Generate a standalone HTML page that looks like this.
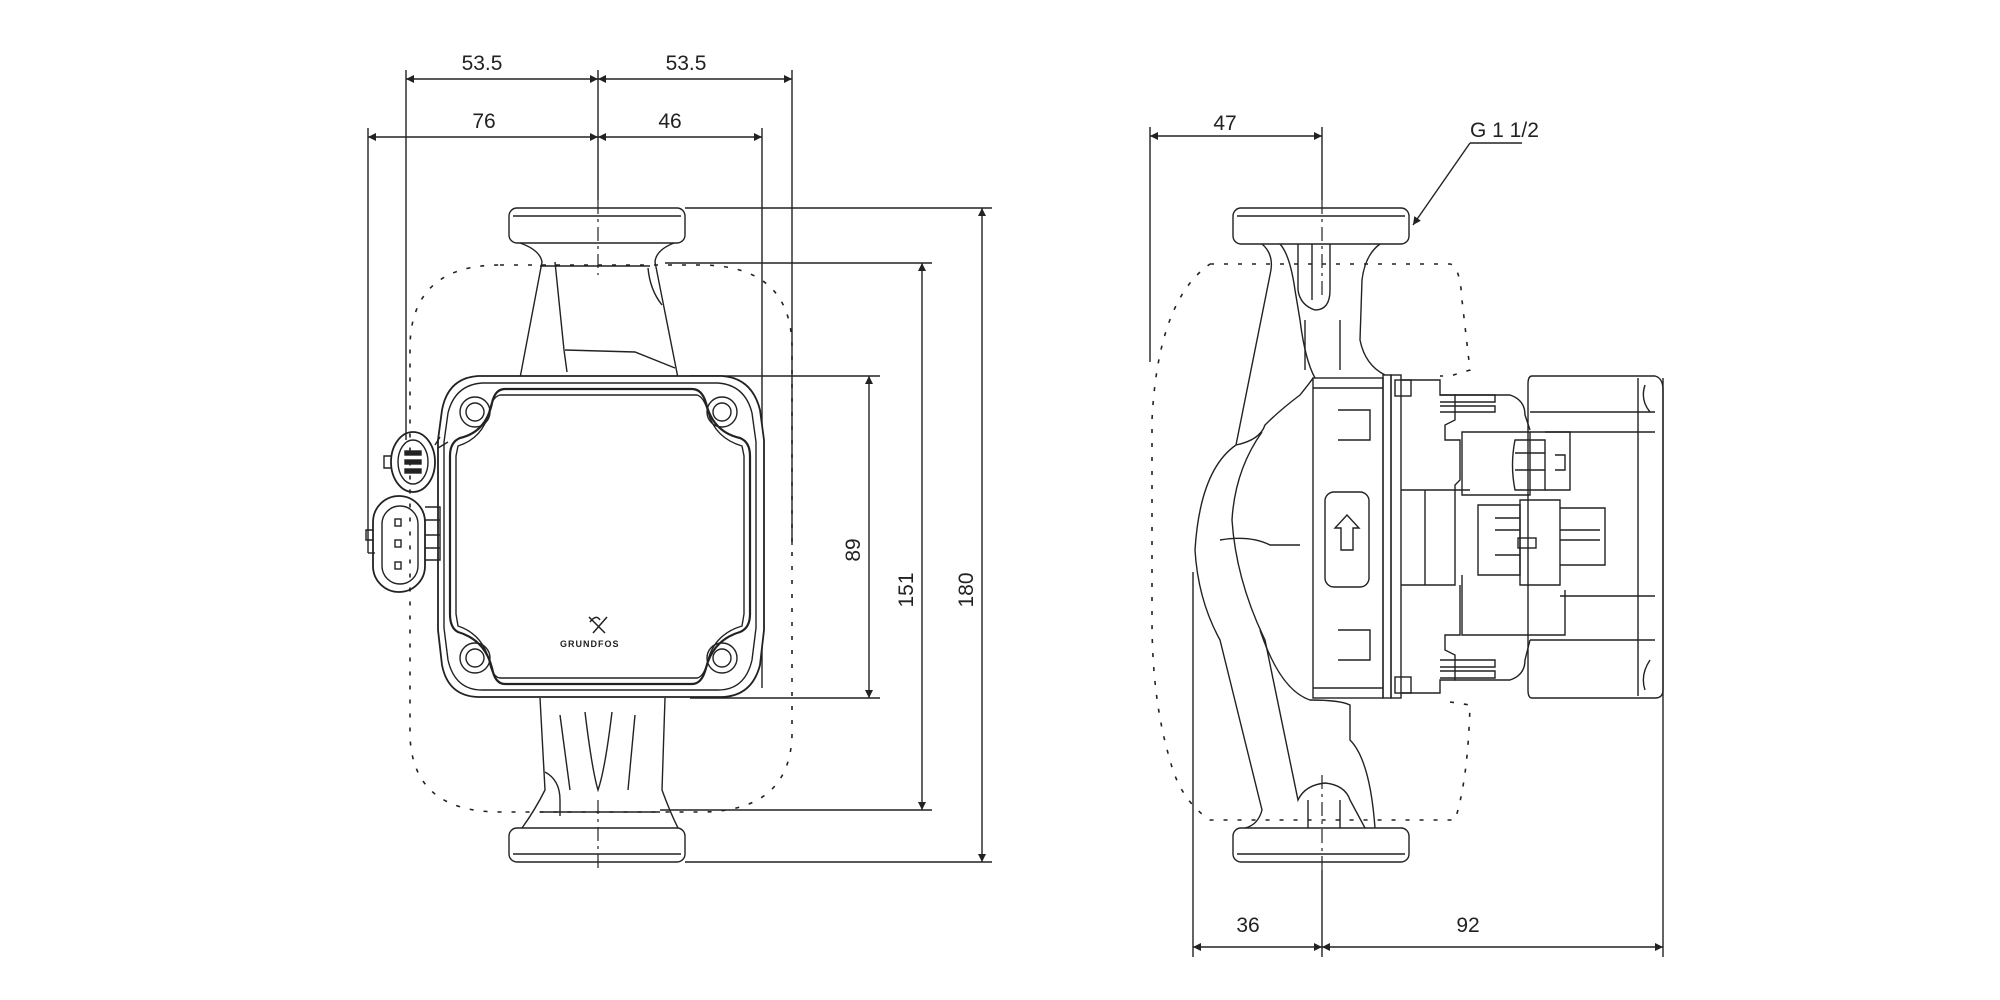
<!DOCTYPE html>
<html><head><meta charset="utf-8"><style>
html,body{margin:0;padding:0;background:#fff;}
svg{display:block}
text{font-family:"Liberation Sans",sans-serif;font-size:21px;fill:#222}
</style></head><body>
<svg width="2000" height="1000" viewBox="0 0 2000 1000" xmlns="http://www.w3.org/2000/svg">
<defs>
<marker id="a" viewBox="0 0 10 10" refX="10" refY="5" markerWidth="14" markerHeight="8" orient="auto-start-reverse" markerUnits="userSpaceOnUse"><path d="M0,0 L10,5 L0,10 z" fill="#222"/></marker>
</defs>
<g fill="none" stroke="#222" stroke-width="1.4">
<!-- ===== LEFT VIEW dimensions ===== -->
<line x1="406" y1="79" x2="598" y2="79" marker-start="url(#a)" marker-end="url(#a)"/>
<line x1="598" y1="79" x2="792" y2="79" marker-start="url(#a)" marker-end="url(#a)"/>
<line x1="368" y1="137" x2="598" y2="137" marker-start="url(#a)" marker-end="url(#a)"/>
<line x1="598" y1="137" x2="762" y2="137" marker-start="url(#a)" marker-end="url(#a)"/>
<line x1="406" y1="70" x2="406" y2="440"/>
<line x1="368" y1="128" x2="368" y2="553"/>
<line x1="368" y1="553" x2="375" y2="553"/>
<line x1="598" y1="70" x2="598" y2="200"/>
<line x1="762" y1="128" x2="762" y2="688"/>
<line x1="792" y1="70" x2="792" y2="545"/>
<!-- right vertical dims -->
<line x1="685" y1="208" x2="992" y2="208"/>
<line x1="685" y1="862" x2="992" y2="862"/>
<line x1="982" y1="208" x2="982" y2="862" marker-start="url(#a)" marker-end="url(#a)"/>
<line x1="665" y1="263" x2="932" y2="263"/>
<line x1="660" y1="810" x2="932" y2="810"/>
<line x1="922" y1="263" x2="922" y2="810" marker-start="url(#a)" marker-end="url(#a)"/>
<line x1="690" y1="376" x2="880" y2="376"/>
<line x1="690" y1="698" x2="880" y2="698"/>
<line x1="869" y1="376" x2="869" y2="698" marker-start="url(#a)" marker-end="url(#a)"/>
<!-- pump left view -->
<rect x="509" y="208" width="176" height="35" rx="8"/>
<line x1="513" y1="216" x2="681" y2="216"/>
<rect x="509" y="828" width="176" height="34" rx="8"/>
<line x1="513" y1="854" x2="681" y2="854"/>
<path d="M520,243 Q540,250 542,262 L520,378"/>
<path d="M674,243 Q656,250 655,262 L678,378"/>
<path d="M555,262 L564,350 L567,372"/>
<path d="M565,350 L635,352 L675,368"/>
<path d="M540,266 L650,266"/>
<path d="M648,268 Q650,290 662,305"/>
<path d="M540,698 L545,790 Q535,810 522,828"/>
<path d="M665,698 L662,790 Q670,812 678,828"/>
<path d="M585,712 Q592,770 598,790 Q605,770 612,712"/>
<path d="M560,715 L570,790 M635,715 L628,790"/>
<path d="M545,772 Q560,780 560,800 L560,816 M540,812 L660,812"/>
<!-- dashed envelope -->
<path d="M500,265 L700,265 Q790,265 792,345 L792,735 Q790,812 700,812 L500,812 Q412,812 410,735 L410,345 Q412,265 500,265 Z" stroke-dasharray="4,10" stroke-width="1.6"/>
<!-- motor head -->
<path d="M478,376 L722,376 Q752,378 760,410 L764,440 L764,630 L760,665 Q752,696 722,697 L478,697 Q448,696 442,665 L438,630 L438,440 L442,410 Q448,378 478,376 Z" fill="#fff" stroke-width="1.8"/>
<path d="M482,383 L718,383 Q745,385 752,413 L756,442 L756,628 L752,660 Q745,690 718,690 L482,690 Q455,690 448,660 L444,628 L444,442 L448,413 Q455,385 482,383 Z"/>
<path d="M505,389 L692,389 Q702,389 706,403 Q713,432 740,438 Q750,442 750,456 L750,614 Q750,628 740,632 Q713,640 706,668 Q702,684 692,684 L505,684 Q495,684 492,668 Q485,640 458,632 Q450,628 450,614 L450,456 Q450,442 460,438 Q486,432 492,403 Q495,389 505,389 Z" stroke-width="2.2"/>
<path d="M500,395 L697,395 Q704,397 708,412 Q715,438 742,446 L744,456 L744,614 L742,626 Q715,634 708,660 Q704,677 697,678 L500,678 Q492,677 489,660 Q482,634 458,626 L456,614 L456,456 L458,446 Q483,438 489,412 Q492,397 500,395 Z"/>
<circle cx="475" cy="412" r="15"/><circle cx="475" cy="412" r="9"/>
<circle cx="722" cy="412" r="15"/><circle cx="722" cy="412" r="9"/>
<circle cx="475" cy="658" r="15"/><circle cx="475" cy="658" r="9"/>
<circle cx="722" cy="658" r="15"/><circle cx="722" cy="658" r="9"/>
<!-- connectors -->
<ellipse cx="413" cy="462" rx="22" ry="30" stroke-width="1.8"/>
<ellipse cx="413" cy="462" rx="15" ry="22"/>
<rect x="405" y="451" width="16" height="4" fill="#222"/><rect x="405" y="460" width="16" height="4" fill="#222"/><rect x="405" y="469" width="16" height="4" fill="#222"/>
<path d="M391,456 L384,456 L384,468 L391,468"/>
<path d="M435,445 L440,437 M438,448 L448,442"/>
<rect x="373" y="496" width="52" height="96" rx="26" stroke-width="1.8"/>
<rect x="382" y="506" width="36" height="78" rx="18"/>
<path d="M425,507 L440,507 L440,560 L425,560 M425,520 L440,520 M425,535 L440,535 M425,548 L440,548"/>
<rect x="395" y="519" width="6" height="7"/><rect x="395" y="540" width="6" height="7"/><rect x="395" y="562" width="6" height="7"/>
<path d="M373,530 L366,530 L366,540 L373,540"/>
<!-- logo -->
<path d="M589,617 L605,633 M607,617 L593,633 M590,622 Q596,614 600,620" stroke-width="1.5"/>
</g>
<text x="560" y="647" style="font-size:9px;font-weight:bold;letter-spacing:1px">GRUNDFOS</text>
<!-- center dash lines left -->
<g stroke="#222" stroke-width="1.2" stroke-dasharray="14,5,3,5" fill="none">
<line x1="598" y1="200" x2="598" y2="275"/>
<line x1="598" y1="800" x2="598" y2="870"/>
<line x1="1322" y1="200" x2="1322" y2="300"/>
<line x1="1322" y1="775" x2="1322" y2="870"/>
</g>
<text x="482" y="70" text-anchor="middle">53.5</text>
<text x="686" y="70" text-anchor="middle">53.5</text>
<text x="484" y="128" text-anchor="middle">76</text>
<text x="670" y="128" text-anchor="middle">46</text>
<text transform="translate(860,550) rotate(-90)" text-anchor="middle">89</text>
<text transform="translate(913,590) rotate(-90)" text-anchor="middle">151</text>
<text transform="translate(973,590) rotate(-90)" text-anchor="middle">180</text>

<!-- ===== RIGHT VIEW ===== -->
<g fill="none" stroke="#222" stroke-width="1.4">
<line x1="1150" y1="136" x2="1322" y2="136" marker-start="url(#a)" marker-end="url(#a)"/>
<line x1="1150" y1="127" x2="1150" y2="362"/>
<line x1="1322" y1="127" x2="1322" y2="200"/>
<line x1="1470" y1="143" x2="1522" y2="143"/>
<line x1="1470" y1="143" x2="1413" y2="225" marker-end="url(#a)"/>
<line x1="1193" y1="947" x2="1322" y2="947" marker-start="url(#a)" marker-end="url(#a)"/>
<line x1="1322" y1="947" x2="1663" y2="947" marker-start="url(#a)" marker-end="url(#a)"/>
<line x1="1193" y1="572" x2="1193" y2="957"/>
<line x1="1322" y1="870" x2="1322" y2="957"/>
<line x1="1663" y1="378" x2="1663" y2="957"/>
<!-- flanges -->
<rect x="1233" y="208" width="176" height="36" rx="8"/>
<line x1="1237" y1="216" x2="1405" y2="216"/>
<rect x="1233" y="828" width="176" height="34" rx="8"/>
<line x1="1237" y1="854" x2="1405" y2="854"/>
<!-- dashed envelope -->
<path d="M1210,264 L1450,264 Q1460,266 1462,300 L1470,370 L1450,376 L1440,376 M1450,702 L1470,705 Q1468,780 1455,820 L1210,820 Q1180,800 1170,760 Q1152,700 1152,620 L1152,420 Q1158,300 1210,264" stroke-dasharray="4,10" stroke-width="1.6"/>
<!-- volute body -->
<path d="M1262,244 Q1275,255 1270,275 L1236,445 Q1200,470 1195,550 Q1198,600 1220,640 L1262,810 Q1258,825 1245,828"/>
<path d="M1380,244 Q1365,255 1362,280 L1360,340 Q1365,365 1385,375"/>
<path d="M1280,244 Q1290,255 1295,290 L1300,320 Q1305,360 1315,378"/>
<path d="M1298,244 L1298,290 Q1300,305 1315,310 Q1330,310 1330,290 L1330,244 M1312,244 L1312,300 M1305,320 L1305,370 M1340,320 L1340,370"/>
<path d="M1236,445 Q1260,440 1265,425 Q1280,410 1300,395 Q1312,380 1313,378"/>
<path d="M1220,540 Q1250,535 1270,545 L1300,545"/>
<path d="M1262,432 Q1235,470 1232,520 Q1236,580 1265,640 L1298,800 Q1305,785 1325,783 Q1345,785 1350,800 L1365,828"/>
<path d="M1260,630 Q1280,690 1310,700 Q1340,700 1350,705 L1350,740 Q1370,760 1375,828"/>
<path d="M1308,800 L1308,828 M1340,800 L1340,828"/>
<!-- pump housing block -->
<rect x="1313" y="378" width="70" height="320" fill="#fff"/>
<path d="M1313,388 L1383,388 M1313,688 L1383,688"/>
<rect x="1325" y="492" width="44" height="95" rx="9"/>
<path d="M1341,550 L1341,528 L1335,528 L1347,515 L1359,528 L1353,528 L1353,550 Z"/>
<path d="M1338,410 L1370,410 L1370,440 L1338,440 M1338,630 L1370,630 L1370,660 L1338,660"/>
<!-- flange plate -->
<rect x="1383" y="375" width="8" height="323"/>
<rect x="1391" y="375" width="10" height="323"/>
<!-- middle section -->
<path d="M1401,380 L1440,380 L1440,395 L1455,395 L1455,420 L1445,425 L1445,440 L1460,440 L1460,480 L1455,485 L1455,490 L1470,490"/>
<path d="M1401,693 L1440,693 L1440,680 L1455,680 L1455,655 L1445,650 L1445,635 L1460,635 L1460,585"/>
<rect x="1395" y="380" width="16" height="16"/><rect x="1395" y="677" width="16" height="16"/>
<path d="M1440,395 L1495,395 L1495,402 L1440,402 M1440,406 L1495,406 L1495,412 L1440,412"/>
<path d="M1440,660 L1495,660 L1495,667 L1440,667 M1440,671 L1495,671 L1495,678 L1440,678"/>
<path d="M1401,490 L1455,490 L1455,585 L1401,585 M1425,490 L1425,585"/>
<path d="M1455,395 L1510,395 Q1525,400 1525,415 L1530,430"/>
<path d="M1455,680 L1510,680 Q1525,675 1525,660 L1530,640"/>
<!-- connector box upper -->
<path d="M1462,432 L1530,432 L1530,495 L1462,495 Z"/>
<path d="M1515,440 L1545,440 L1545,490 L1515,490 Q1510,465 1515,440 Z"/>
<path d="M1545,432 L1570,432 L1570,490 L1545,490 M1555,455 L1565,455 L1565,470 L1555,470"/>
<path d="M1515,453 L1545,453 M1515,470 L1545,470"/>
<!-- connector box lower -->
<path d="M1478,505 L1520,505 L1520,575 L1478,575 Z"/>
<path d="M1520,500 L1560,500 L1560,585 L1520,585 Z"/>
<path d="M1560,508 L1605,508 L1605,565 L1560,565 M1560,530 L1600,530 M1560,540 L1600,540"/>
<path d="M1495,518 L1520,518 M1495,530 L1520,530 M1495,555 L1520,555"/>
<rect x="1518" y="538" width="18" height="10"/>
<path d="M1462,575 L1462,635 L1565,635 L1565,590"/>
<!-- end cap -->
<path d="M1532,376 L1655,376 Q1663,378 1663,390 L1663,690 Q1663,698 1655,698 L1532,698 Q1528,698 1528,690 L1528,384 Q1528,376 1532,376 Z"/>
<line x1="1638" y1="378" x2="1638" y2="696"/>
<line x1="1530" y1="412" x2="1655" y2="412"/>
<line x1="1530" y1="432" x2="1655" y2="432"/>
<line x1="1560" y1="596" x2="1655" y2="596"/>
<line x1="1530" y1="640" x2="1655" y2="640"/>
<path d="M1645,385 Q1640,400 1650,412 M1645,690 Q1640,675 1650,660"/>
</g>
<text x="1225" y="130" text-anchor="middle">47</text>
<text x="1470" y="137">G 1 1/2</text>
<text x="1248" y="932" text-anchor="middle">36</text>
<text x="1468" y="932" text-anchor="middle">92</text>
</svg>
</body></html>
